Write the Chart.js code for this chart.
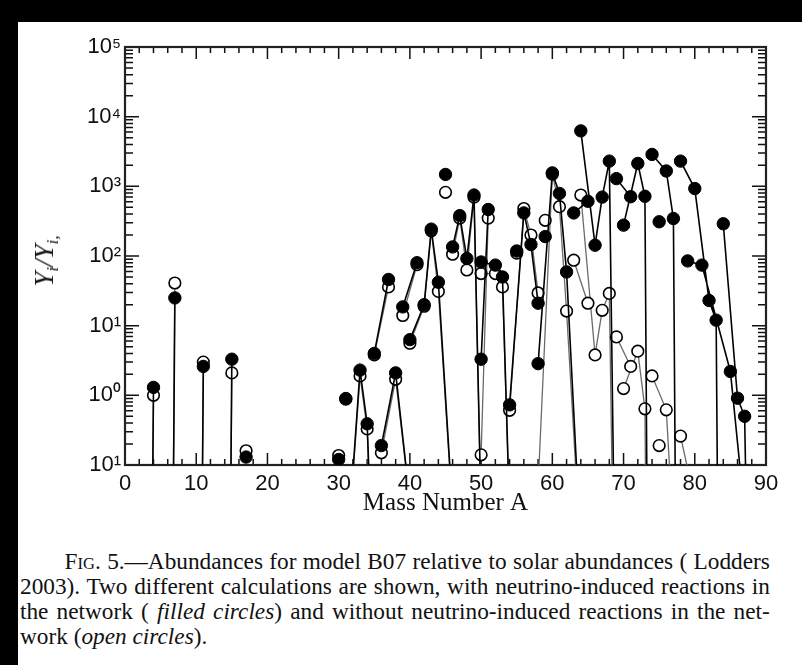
<!DOCTYPE html>
<html>
<head>
<meta charset="utf-8">
<script src="https://cdn.jsdelivr.net/npm/chart.js@4/dist/chart.umd.min.js"></script>
<style>
  html, body { margin: 0; padding: 0; background: #000; overflow: hidden; }
  #page { position: relative; width: 802px; height: 665px; overflow: hidden; }
  #sheet { position: absolute; left: 18px; top: 22px; right: 0; bottom: 0; background: #fff; }
  #chart { position: absolute; left: 0; top: 0; }
  #ytitle {
    position: absolute; left: 46px; top: 261px;
    transform: translate(-50%, -50%) rotate(-90deg);
    font: italic 27px "Liberation Serif", serif; color: #111; white-space: nowrap;
  }
  #ytitle sub { font-size: 17px; vertical-align: -5px; }
  #caption {
    position: absolute; left: 20px; top: 549px;
    font: 24px "Liberation Serif", serif; color: #111; line-height: 25px;
  }
  #caption div {
    width: 773px; transform: scaleX(0.97); transform-origin: 0 0;
    text-align: justify; text-align-last: justify; white-space: nowrap;
  }
  #caption div.first { width: 727px; padding-left: 46px; }
  #caption div.last { text-align: left; text-align-last: left; }
  .sc { font-variant: small-caps; }
</style>
</head>
<body>
<div id="page">
  <div id="sheet"></div>
  <canvas id="chart" width="802" height="530"></canvas>
  <div id="ytitle">Y<sub>i</sub>/Y<sub>i,</sub></div>
  <div id="caption">
    <div class="first"><span class="sc">Fig</span>. 5.—Abundances for model B07 relative to solar abundances ( Lodders</div>
    <div>2003). Two different calculations are shown, with neutrino-induced reactions in</div>
    <div>the network ( <i>filled circles</i>) and without neutrino-induced reactions in the net-</div>
    <div class="last">work (<i>open circles</i>).</div>
  </div>
</div>
<script>
// isotope chains (mass numbers), one chain per element, lines join within a chain
const BELOW = 1e-12; // value far under the plotted range
const massChains = [
  [3, 4], [6, 7], [10, 11], [14, 15], [17], [30], [31],
  [32, 33, 34, 36], [35, 37], [36, 38, 40], [39, 41],
  [40, 42, 43, 44, 46], [45], [46, 47, 48, 49, 50], [50, 51],
  [50, 52, 53, 54], [55], [54, 56, 57, 58], [59],
  [58, 60, 61, 62, 64], [63, 65], [64, 66, 67, 68, 70], [69, 71],
  [70, 72, 73, 74], [75], [74, 76, 77, 78], [79, 81, 85, 87],
  [78, 80, 82, 83, 84], [84, 86, 87, 88]
];
// with neutrino-induced reactions (filled circles)
const filledRatio = [
  [BELOW, 1.3], [BELOW, 25], [BELOW, 2.6], [BELOW, 3.3], [0.13], [0.12], [0.9],
  [0.08, 2.3, 0.39, 1e-6], [4.0, 46], [0.19, 2.1, 0.03], [18.6, 80],
  [6.3, 20, 243, 42, 0.022], [1480], [135, 380, 92, 750, 0.02], [3.3, 465],
  [82, 74, 50, 0.02], [118], [0.73, 415, 146, 21], [190],
  [2.85, 1560, 790, 59, 0.006], [415, 610], [6250, 143, 700, 2300, BELOW], [1290, 710],
  [277, 2130, 720, BELOW], [310], [2870, 1660, 345, BELOW], [85, 74, 2.2, 0.02],
  [2300, 930, 23, 12, BELOW], [290, 0.91, 0.5, 1e-6]
];
// without neutrino-induced reactions (open circles)
const openRatio = [
  [BELOW, 1.0], [BELOW, 41], [BELOW, 3.0], [BELOW, 2.1], [0.16], [0.137], [0.88],
  [0.07, 1.9, 0.33, 1e-6], [3.8, 36], [0.15, 1.7, 0.03], [14, 75],
  [5.6, 19, 230, 31, 0.02], [820], [106, 350, 63, 700, 0.02], [0.14, 350],
  [56, 56, 36, 0.02], [110], [0.61, 480, 200, 29.5], [325],
  [0.05, 1500, 510, 16.2, 0.005], [87, 21], [750, 3.8, 16.6, 29, BELOW], [6.9, 2.6],
  [1.25, 4.3, 0.64, BELOW], [0.19], [1.9, 0.62, 0.01, BELOW], [BELOW, BELOW, BELOW, BELOW],
  [0.26, 0.03, BELOW, BELOW, BELOW], [BELOW, BELOW, BELOW, BELOW]
];
const xTickLabels = [0, 10, 20, 30, 40, 50, 60, 70, 80, 90];
const yTickLabels = ['10¹', '10⁰', '10¹', '10²', '10³', '10⁴', '10⁵'];
const yDecades = [0.1, 1, 10, 100, 1000, 10000, 100000];

const Y_MIN = 0.1, Y_MAX = 1e5;

function toPoints(ratios) {
    const pts = [];
    massChains.forEach((chain, i) => {
        chain.forEach((a, j) => pts.push({x: a, y: ratios[i][j]}));
        pts.push({x: chain[chain.length - 1], y: null}); // break the line between elements
    });
    return pts;
}

function visibleRadius(r) {
    return ctx => {
        const v = ctx.raw && ctx.raw.y;
        return v != null && v >= Y_MIN ? r : 0;
    };
}

// frame with inward ticks on all four sides
const frameTicks = {
    id: 'frameTicks',
    beforeDatasetsDraw(chart) {
        const {ctx, chartArea: a, scales: {x, y}} = chart;
        ctx.save();
        ctx.strokeStyle = '#111';
        ctx.lineWidth = 1.5;
        ctx.beginPath();
        for (let v = 0; v <= 90; v += 2) {
            const px = x.getPixelForValue(v);
            const len = v % 10 === 0 ? 12 : 6;
            ctx.moveTo(px, a.bottom); ctx.lineTo(px, a.bottom - len);
            ctx.moveTo(px, a.top); ctx.lineTo(px, a.top + len);
        }
        yDecades.forEach(d => {
            for (let m = 1; m <= 9; m++) {
                const v = d * m;
                if (v > Y_MAX) break;
                const py = y.getPixelForValue(v);
                const len = m === 1 ? 14 : 8;
                ctx.moveTo(a.left, py); ctx.lineTo(a.left + len, py);
                ctx.moveTo(a.right, py); ctx.lineTo(a.right - len, py);
            }
        });
        ctx.stroke();
        ctx.lineWidth = 2.2;
        ctx.strokeStyle = '#222';
        ctx.strokeRect(a.left, a.top, a.right - a.left, a.bottom - a.top);
        ctx.restore();
    }
};

new Chart(document.getElementById('chart'), {
    type: 'line',
    data: {
        datasets: [{
            label: 'with neutrino-induced reactions',
            data: toPoints(filledRatio),
            borderColor: '#000',
            borderWidth: 1.6,
            pointBackgroundColor: '#000',
            pointBorderColor: '#000',
            pointBorderWidth: 1,
            pointRadius: visibleRadius(6.2),
            spanGaps: false,
            clip: 0,
            tension: 0
        }, {
            label: 'without neutrino-induced reactions',
            data: toPoints(openRatio),
            borderColor: '#6a6a6a',
            borderWidth: 1.3,
            pointBackgroundColor: '#fff',
            pointBorderColor: '#000',
            pointBorderWidth: 1.6,
            pointRadius: visibleRadius(5.8),
            spanGaps: false,
            clip: 0,
            tension: 0
        }]
    },
    options: {
        responsive: false,
        animation: false,
        devicePixelRatio: 1,
        layout: {padding: {left: 0, right: 36, top: 47, bottom: 0}},
        plugins: {legend: {display: false}, tooltip: {enabled: false}},
        scales: {
            x: {
                type: 'linear', min: 0, max: 90,
                afterBuildTicks: s => { s.ticks = xTickLabels.map(v => ({value: v})); },
                afterFit: s => { s.height = 65; },
                grid: {display: false, drawTicks: false},
                border: {display: false},
                ticks: {
                    padding: 6, color: '#111',
                    font: {family: '"Liberation Sans", Arial, sans-serif', size: 22}
                },
                title: {
                    display: true, text: 'Mass Number A', color: '#111',
                    font: {family: '"Liberation Serif", serif', size: 25},
                    padding: {top: 0, bottom: 12}
                }
            },
            y: {
                type: 'logarithmic', min: Y_MIN, max: Y_MAX,
                afterBuildTicks: s => { s.ticks = yDecades.map(v => ({value: v})); },
                afterFit: s => { s.width = 125; },
                grid: {display: false, drawTicks: false},
                border: {display: false},
                ticks: {
                    padding: 4, color: '#111',
                    font: {family: '"Liberation Sans", Arial, sans-serif', size: 22},
                    callback: (v, i) => yTickLabels[i]
                }
            }
        }
    },
    plugins: [frameTicks]
});
</script>
</body>
</html>
